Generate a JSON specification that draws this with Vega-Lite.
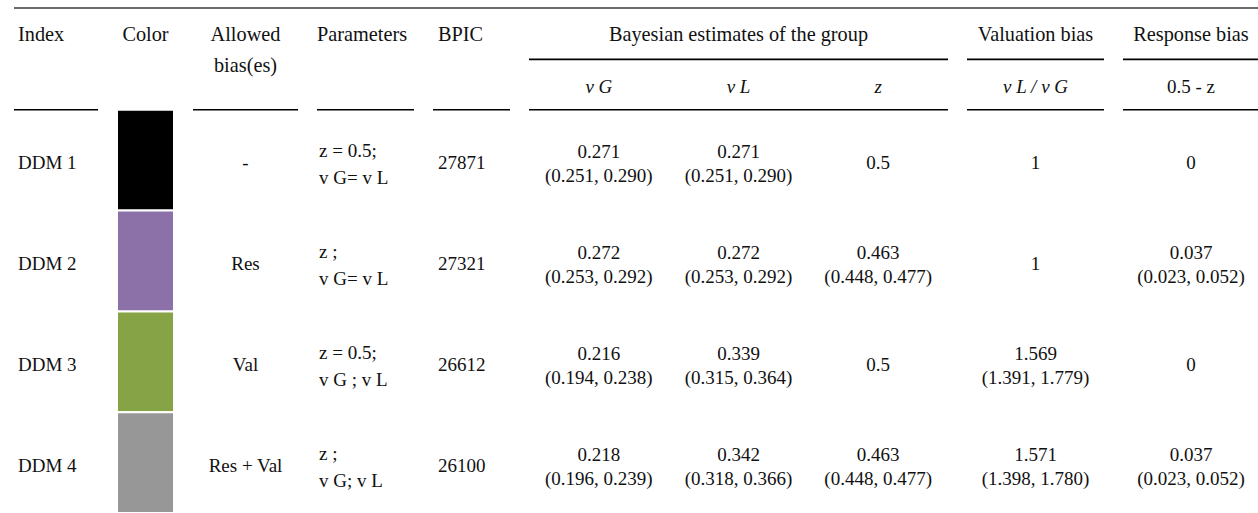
{
  "$schema": "https://vega.github.io/schema/vega-lite/v6.json",
  "padding": {"left": 13, "top": 7, "right": 0, "bottom": 0},
  "background": "white",
  "bounds": "flush",
  "spacing": 0,
  "config": {
    "view": {"stroke": null},
    "text": {"font": "Liberation Serif", "fontSize": 19, "color": "#111111"},
    "rule": {"color": "#000000", "strokeWidth": 1.6}
  },
  "datasets": {
    "header": [
      {"col": "Index", "text": "Index"},
      {"col": "Color", "text": "Color"},
      {"col": "Allowed", "text": "Allowed\nbias(es)"},
      {"col": "Parameters", "text": "Parameters"},
      {"col": "BPIC", "text": "BPIC"},
      {"col": "Bayes", "text": "Bayesian estimates of the group"},
      {"col": "Valuation", "text": "Valuation bias"},
      {"col": "Response", "text": "Response bias"}
    ],
    "subs": [
      {"col": "Bayes", "sub": "vG", "text": "v G"},
      {"col": "Bayes", "sub": "vL", "text": "v L"},
      {"col": "Bayes", "sub": "z", "text": "z"},
      {"col": "Valuation", "sub": "ratio", "text": "v L / v G"},
      {"col": "Response", "sub": "resp", "text": "0.5 - z"}
    ],
    "cells": [
      {"model": "DDM 1", "col": "Index", "text": "DDM 1"},
      {"model": "DDM 2", "col": "Index", "text": "DDM 2"},
      {"model": "DDM 3", "col": "Index", "text": "DDM 3"},
      {"model": "DDM 4", "col": "Index", "text": "DDM 4"},
      {"model": "DDM 1", "col": "Color", "text": ""},
      {"model": "DDM 2", "col": "Color", "text": ""},
      {"model": "DDM 3", "col": "Color", "text": ""},
      {"model": "DDM 4", "col": "Color", "text": ""},
      {"model": "DDM 1", "col": "Allowed", "text": "-"},
      {"model": "DDM 2", "col": "Allowed", "text": "Res"},
      {"model": "DDM 3", "col": "Allowed", "text": "Val"},
      {"model": "DDM 4", "col": "Allowed", "text": "Res + Val"},
      {"model": "DDM 1", "col": "Parameters", "text": "z  = 0.5;\nv G= v L"},
      {"model": "DDM 2", "col": "Parameters", "text": "z ;\nv G= v L"},
      {"model": "DDM 3", "col": "Parameters", "text": "z  = 0.5;\nv G ; v L"},
      {"model": "DDM 4", "col": "Parameters", "text": "z ;\nv G; v L"},
      {"model": "DDM 1", "col": "BPIC", "text": "27871"},
      {"model": "DDM 2", "col": "BPIC", "text": "27321"},
      {"model": "DDM 3", "col": "BPIC", "text": "26612"},
      {"model": "DDM 4", "col": "BPIC", "text": "26100"},
      {"model": "DDM 1", "col": "Bayes", "sub": "vG", "text": "0.271\n(0.251, 0.290)"},
      {"model": "DDM 1", "col": "Bayes", "sub": "vL", "text": "0.271\n(0.251, 0.290)"},
      {"model": "DDM 1", "col": "Bayes", "sub": "z", "text": "0.5"},
      {"model": "DDM 2", "col": "Bayes", "sub": "vG", "text": "0.272\n(0.253, 0.292)"},
      {"model": "DDM 2", "col": "Bayes", "sub": "vL", "text": "0.272\n(0.253, 0.292)"},
      {"model": "DDM 2", "col": "Bayes", "sub": "z", "text": "0.463\n(0.448, 0.477)"},
      {"model": "DDM 3", "col": "Bayes", "sub": "vG", "text": "0.216\n(0.194, 0.238)"},
      {"model": "DDM 3", "col": "Bayes", "sub": "vL", "text": "0.339\n(0.315, 0.364)"},
      {"model": "DDM 3", "col": "Bayes", "sub": "z", "text": "0.5"},
      {"model": "DDM 4", "col": "Bayes", "sub": "vG", "text": "0.218\n(0.196, 0.239)"},
      {"model": "DDM 4", "col": "Bayes", "sub": "vL", "text": "0.342\n(0.318, 0.366)"},
      {"model": "DDM 4", "col": "Bayes", "sub": "z", "text": "0.463\n(0.448, 0.477)"},
      {"model": "DDM 1", "col": "Valuation", "text": "1"},
      {"model": "DDM 2", "col": "Valuation", "text": "1"},
      {"model": "DDM 3", "col": "Valuation", "text": "1.569\n(1.391, 1.779)"},
      {"model": "DDM 4", "col": "Valuation", "text": "1.571\n(1.398, 1.780)"},
      {"model": "DDM 1", "col": "Response", "text": "0"},
      {"model": "DDM 2", "col": "Response", "text": "0.037\n(0.023, 0.052)"},
      {"model": "DDM 3", "col": "Response", "text": "0"},
      {"model": "DDM 4", "col": "Response", "text": "0.037\n(0.023, 0.052)"}
    ]
  },
  "vconcat": [
    {
      "width": 1245,
      "height": 2,
      "data": {"values": [{"line": "top"}]},
      "mark": {"type": "rule", "color": "#3a3a3a", "strokeWidth": 1.6},
      "encoding": {"y": {"field": "line", "type": "nominal", "axis": null}}
    },
    {
      "spacing": 19,
      "bounds": "flush",
      "hconcat": [
        {
          "width": 84, "height": 504,
          "layer": [
            {"data": {"name": "header"}, "transform": [{"filter": "datum.col === 'Index'"}],
             "mark": {"type": "text", "align": "left", "baseline": "alphabetic", "fontSize": 20.3, "dx": 4, "dy": -18, "lineBreak": "\n", "lineHeight": 31},
             "encoding": {
               "x": {"field": "col", "type": "nominal", "axis": null, "scale": {"type": "point", "padding": 0, "align": 0}},
               "y": {"datum": "H", "type": "nominal", "axis": null, "scale": {"type": "band", "domain": ["H", "DDM 1", "DDM 2", "DDM 3", "DDM 4"], "paddingInner": 0, "paddingOuter": 0}},
               "text": {"field": "text", "type": "nominal"}}},
            {"data": {"name": "header"}, "transform": [{"filter": "datum.col === 'Index'"}],
             "mark": "rule",
             "encoding": {"y": {"datum": "H", "type": "nominal", "axis": null, "bandPosition": 1, "scale": {"type": "band", "domain": ["H", "DDM 1", "DDM 2", "DDM 3", "DDM 4"], "paddingInner": 0, "paddingOuter": 0}}}},
            {"data": {"name": "cells"}, "transform": [{"filter": "datum.col === 'Index'"}],
             "mark": {"type": "text", "align": "left", "baseline": "middle", "dx": 4, "dy": 3},
             "encoding": {
               "x": {"field": "col", "type": "nominal", "axis": null, "scale": {"type": "point", "padding": 0, "align": 0}},
               "y": {"field": "model", "type": "nominal", "axis": null, "scale": {"type": "band", "domain": ["H", "DDM 1", "DDM 2", "DDM 3", "DDM 4"], "paddingInner": 0, "paddingOuter": 0}},
               "text": {"field": "text", "type": "nominal"}}}
          ]
        },
        {
          "width": 57, "height": 504,
          "layer": [
            {"data": {"name": "header"}, "transform": [{"filter": "datum.col === 'Color'"}],
             "mark": {"type": "text", "align": "center", "baseline": "alphabetic", "fontSize": 20.3, "dy": -18, "lineBreak": "\n", "lineHeight": 31},
             "encoding": {
               "y": {"datum": "H", "type": "nominal", "axis": null, "scale": {"type": "band", "domain": ["H", "DDM 1", "DDM 2", "DDM 3", "DDM 4"], "paddingInner": 0, "paddingOuter": 0}},
               "text": {"field": "text", "type": "nominal"}}},
            {"data": {"name": "cells"}, "transform": [{"filter": "datum.col === 'Color'"}],
             "mark": {"type": "rect", "stroke": "white", "strokeWidth": 2},
             "encoding": {
               "y": {"field": "model", "type": "nominal", "axis": null, "scale": {"type": "band", "domain": ["H", "DDM 1", "DDM 2", "DDM 3", "DDM 4"], "paddingInner": 0, "paddingOuter": 0}},
               "color": {"field": "model", "type": "nominal", "legend": null, "scale": {"domain": ["DDM 1", "DDM 2", "DDM 3", "DDM 4"], "range": ["#000000", "#8B71A8", "#86A346", "#979797"]}}}}
          ]
        },
        {
          "width": 105, "height": 504,
          "layer": [
            {"data": {"name": "header"}, "transform": [{"filter": "datum.col === 'Allowed'"}],
             "mark": {"type": "text", "align": "center", "baseline": "alphabetic", "fontSize": 20.3, "dy": -18, "lineBreak": "\n", "lineHeight": 31},
             "encoding": {
               "y": {"datum": "H", "type": "nominal", "axis": null, "scale": {"type": "band", "domain": ["H", "DDM 1", "DDM 2", "DDM 3", "DDM 4"], "paddingInner": 0, "paddingOuter": 0}},
               "text": {"field": "text", "type": "nominal"}}},
            {"data": {"name": "header"}, "transform": [{"filter": "datum.col === 'Allowed'"}],
             "mark": "rule",
             "encoding": {"y": {"datum": "H", "type": "nominal", "axis": null, "bandPosition": 1, "scale": {"type": "band", "domain": ["H", "DDM 1", "DDM 2", "DDM 3", "DDM 4"], "paddingInner": 0, "paddingOuter": 0}}}},
            {"data": {"name": "cells"}, "transform": [{"filter": "datum.col === 'Allowed'"}],
             "mark": {"type": "text", "align": "center", "baseline": "middle", "dy": 3},
             "encoding": {
               "y": {"field": "model", "type": "nominal", "axis": null, "scale": {"type": "band", "domain": ["H", "DDM 1", "DDM 2", "DDM 3", "DDM 4"], "paddingInner": 0, "paddingOuter": 0}},
               "text": {"field": "text", "type": "nominal"}}}
          ]
        },
        {
          "width": 97, "height": 504,
          "layer": [
            {"data": {"name": "header"}, "transform": [{"filter": "datum.col === 'Parameters'"}],
             "mark": {"type": "text", "align": "left", "baseline": "alphabetic", "fontSize": 20.3, "dx": 0, "dy": -18, "lineBreak": "\n", "lineHeight": 31},
             "encoding": {
               "x": {"field": "col", "type": "nominal", "axis": null, "scale": {"type": "point", "padding": 0, "align": 0}},
               "y": {"datum": "H", "type": "nominal", "axis": null, "scale": {"type": "band", "domain": ["H", "DDM 1", "DDM 2", "DDM 3", "DDM 4"], "paddingInner": 0, "paddingOuter": 0}},
               "text": {"field": "text", "type": "nominal"}}},
            {"data": {"name": "header"}, "transform": [{"filter": "datum.col === 'Parameters'"}],
             "mark": "rule",
             "encoding": {"y": {"datum": "H", "type": "nominal", "axis": null, "bandPosition": 1, "scale": {"type": "band", "domain": ["H", "DDM 1", "DDM 2", "DDM 3", "DDM 4"], "paddingInner": 0, "paddingOuter": 0}}}},
            {"data": {"name": "cells"}, "transform": [{"filter": "datum.col === 'Parameters'"}],
             "mark": {"type": "text", "align": "left", "baseline": "middle", "dx": 2, "dy": -9, "lineBreak": "\n", "lineHeight": 27},
             "encoding": {
               "x": {"field": "col", "type": "nominal", "axis": null, "scale": {"type": "point", "padding": 0, "align": 0}},
               "y": {"field": "model", "type": "nominal", "axis": null, "scale": {"type": "band", "domain": ["H", "DDM 1", "DDM 2", "DDM 3", "DDM 4"], "paddingInner": 0, "paddingOuter": 0}},
               "text": {"field": "text", "type": "nominal"}}}
          ]
        },
        {
          "width": 77, "height": 504,
          "layer": [
            {"data": {"name": "header"}, "transform": [{"filter": "datum.col === 'BPIC'"}],
             "mark": {"type": "text", "align": "left", "baseline": "alphabetic", "fontSize": 20.3, "dx": 5, "dy": -18, "lineBreak": "\n", "lineHeight": 31},
             "encoding": {
               "x": {"field": "col", "type": "nominal", "axis": null, "scale": {"type": "point", "padding": 0, "align": 0}},
               "y": {"datum": "H", "type": "nominal", "axis": null, "scale": {"type": "band", "domain": ["H", "DDM 1", "DDM 2", "DDM 3", "DDM 4"], "paddingInner": 0, "paddingOuter": 0}},
               "text": {"field": "text", "type": "nominal"}}},
            {"data": {"name": "header"}, "transform": [{"filter": "datum.col === 'BPIC'"}],
             "mark": "rule",
             "encoding": {"y": {"datum": "H", "type": "nominal", "axis": null, "bandPosition": 1, "scale": {"type": "band", "domain": ["H", "DDM 1", "DDM 2", "DDM 3", "DDM 4"], "paddingInner": 0, "paddingOuter": 0}}}},
            {"data": {"name": "cells"}, "transform": [{"filter": "datum.col === 'BPIC'"}],
             "mark": {"type": "text", "align": "left", "baseline": "middle", "dx": 5, "dy": 3},
             "encoding": {
               "x": {"field": "col", "type": "nominal", "axis": null, "scale": {"type": "point", "padding": 0, "align": 0}},
               "y": {"field": "model", "type": "nominal", "axis": null, "scale": {"type": "band", "domain": ["H", "DDM 1", "DDM 2", "DDM 3", "DDM 4"], "paddingInner": 0, "paddingOuter": 0}},
               "text": {"field": "text", "type": "nominal"}}}
          ]
        },
        {
          "width": 419, "height": 504,
          "layer": [
            {"data": {"name": "header"}, "transform": [{"filter": "datum.col === 'Bayes'"}],
             "mark": {"type": "text", "align": "center", "baseline": "alphabetic", "fontSize": 20.3, "dy": -18, "lineBreak": "\n", "lineHeight": 31},
             "encoding": {
               "y": {"datum": "H", "type": "nominal", "axis": null, "scale": {"type": "band", "domain": ["H", "DDM 1", "DDM 2", "DDM 3", "DDM 4"], "paddingInner": 0, "paddingOuter": 0}},
               "text": {"field": "text", "type": "nominal"}}},
            {"data": {"name": "header"}, "transform": [{"filter": "datum.col === 'Bayes'"}],
             "mark": "rule",
             "encoding": {"y": {"datum": "H", "type": "nominal", "axis": null, "bandPosition": 0.5, "scale": {"type": "band", "domain": ["H", "DDM 1", "DDM 2", "DDM 3", "DDM 4"], "paddingInner": 0, "paddingOuter": 0}}}},
            {"data": {"name": "subs"}, "transform": [{"filter": "datum.col === 'Bayes'"}],
             "mark": {"type": "text", "align": "center", "baseline": "middle", "dy": 28, "fontStyle": "italic"},
             "encoding": {
               "x": {"field": "sub", "type": "nominal", "axis": null, "scale": {"type": "band", "domain": ["vG", "vL", "z"], "paddingInner": 0, "paddingOuter": 0}},
               "y": {"datum": "H", "type": "nominal", "axis": null, "scale": {"type": "band", "domain": ["H", "DDM 1", "DDM 2", "DDM 3", "DDM 4"], "paddingInner": 0, "paddingOuter": 0}},
               "text": {"field": "text", "type": "nominal"}}},
            {"data": {"name": "header"}, "transform": [{"filter": "datum.col === 'Bayes'"}],
             "mark": "rule",
             "encoding": {"y": {"datum": "H", "type": "nominal", "axis": null, "bandPosition": 1, "scale": {"type": "band", "domain": ["H", "DDM 1", "DDM 2", "DDM 3", "DDM 4"], "paddingInner": 0, "paddingOuter": 0}}}},
            {"data": {"name": "cells"}, "transform": [{"filter": "datum.col === 'Bayes' && length(datum.text) > 5"}],
             "mark": {"type": "text", "align": "center", "baseline": "middle", "dy": -8, "lineBreak": "\n", "lineHeight": 24},
             "encoding": {
               "x": {"field": "sub", "type": "nominal", "axis": null, "scale": {"type": "band", "domain": ["vG", "vL", "z"], "paddingInner": 0, "paddingOuter": 0}},
               "y": {"field": "model", "type": "nominal", "axis": null, "scale": {"type": "band", "domain": ["H", "DDM 1", "DDM 2", "DDM 3", "DDM 4"], "paddingInner": 0, "paddingOuter": 0}},
               "text": {"field": "text", "type": "nominal"}}},
            {"data": {"name": "cells"}, "transform": [{"filter": "datum.col === 'Bayes' && length(datum.text) <= 5"}],
             "mark": {"type": "text", "align": "center", "baseline": "middle", "dy": 3},
             "encoding": {
               "x": {"field": "sub", "type": "nominal", "axis": null, "scale": {"type": "band", "domain": ["vG", "vL", "z"], "paddingInner": 0, "paddingOuter": 0}},
               "y": {"field": "model", "type": "nominal", "axis": null, "scale": {"type": "band", "domain": ["H", "DDM 1", "DDM 2", "DDM 3", "DDM 4"], "paddingInner": 0, "paddingOuter": 0}},
               "text": {"field": "text", "type": "nominal"}}}
          ]
        },
        {
          "width": 137, "height": 504,
          "layer": [
            {"data": {"name": "header"}, "transform": [{"filter": "datum.col === 'Valuation'"}],
             "mark": {"type": "text", "align": "center", "baseline": "alphabetic", "fontSize": 20.3, "dy": -18, "lineBreak": "\n", "lineHeight": 31},
             "encoding": {
               "y": {"datum": "H", "type": "nominal", "axis": null, "scale": {"type": "band", "domain": ["H", "DDM 1", "DDM 2", "DDM 3", "DDM 4"], "paddingInner": 0, "paddingOuter": 0}},
               "text": {"field": "text", "type": "nominal"}}},
            {"data": {"name": "header"}, "transform": [{"filter": "datum.col === 'Valuation'"}],
             "mark": "rule",
             "encoding": {"y": {"datum": "H", "type": "nominal", "axis": null, "bandPosition": 0.5, "scale": {"type": "band", "domain": ["H", "DDM 1", "DDM 2", "DDM 3", "DDM 4"], "paddingInner": 0, "paddingOuter": 0}}}},
            {"data": {"name": "subs"}, "transform": [{"filter": "datum.col === 'Valuation'"}],
             "mark": {"type": "text", "align": "center", "baseline": "middle", "dy": 28, "fontStyle": "italic"},
             "encoding": {
               "y": {"datum": "H", "type": "nominal", "axis": null, "scale": {"type": "band", "domain": ["H", "DDM 1", "DDM 2", "DDM 3", "DDM 4"], "paddingInner": 0, "paddingOuter": 0}},
               "text": {"field": "text", "type": "nominal"}}},
            {"data": {"name": "header"}, "transform": [{"filter": "datum.col === 'Valuation'"}],
             "mark": "rule",
             "encoding": {"y": {"datum": "H", "type": "nominal", "axis": null, "bandPosition": 1, "scale": {"type": "band", "domain": ["H", "DDM 1", "DDM 2", "DDM 3", "DDM 4"], "paddingInner": 0, "paddingOuter": 0}}}},
            {"data": {"name": "cells"}, "transform": [{"filter": "datum.col === 'Valuation' && length(datum.text) > 5"}],
             "mark": {"type": "text", "align": "center", "baseline": "middle", "dy": -8, "lineBreak": "\n", "lineHeight": 24},
             "encoding": {
               "y": {"field": "model", "type": "nominal", "axis": null, "scale": {"type": "band", "domain": ["H", "DDM 1", "DDM 2", "DDM 3", "DDM 4"], "paddingInner": 0, "paddingOuter": 0}},
               "text": {"field": "text", "type": "nominal"}}},
            {"data": {"name": "cells"}, "transform": [{"filter": "datum.col === 'Valuation' && length(datum.text) <= 5"}],
             "mark": {"type": "text", "align": "center", "baseline": "middle", "dy": 3},
             "encoding": {
               "y": {"field": "model", "type": "nominal", "axis": null, "scale": {"type": "band", "domain": ["H", "DDM 1", "DDM 2", "DDM 3", "DDM 4"], "paddingInner": 0, "paddingOuter": 0}},
               "text": {"field": "text", "type": "nominal"}}}
          ]
        },
        {
          "width": 136, "height": 504,
          "layer": [
            {"data": {"name": "header"}, "transform": [{"filter": "datum.col === 'Response'"}],
             "mark": {"type": "text", "align": "center", "baseline": "alphabetic", "fontSize": 20.3, "dy": -18, "lineBreak": "\n", "lineHeight": 31},
             "encoding": {
               "y": {"datum": "H", "type": "nominal", "axis": null, "scale": {"type": "band", "domain": ["H", "DDM 1", "DDM 2", "DDM 3", "DDM 4"], "paddingInner": 0, "paddingOuter": 0}},
               "text": {"field": "text", "type": "nominal"}}},
            {"data": {"name": "header"}, "transform": [{"filter": "datum.col === 'Response'"}],
             "mark": "rule",
             "encoding": {"y": {"datum": "H", "type": "nominal", "axis": null, "bandPosition": 0.5, "scale": {"type": "band", "domain": ["H", "DDM 1", "DDM 2", "DDM 3", "DDM 4"], "paddingInner": 0, "paddingOuter": 0}}}},
            {"data": {"name": "subs"}, "transform": [{"filter": "datum.col === 'Response'"}],
             "mark": {"type": "text", "align": "center", "baseline": "middle", "dy": 28},
             "encoding": {
               "y": {"datum": "H", "type": "nominal", "axis": null, "scale": {"type": "band", "domain": ["H", "DDM 1", "DDM 2", "DDM 3", "DDM 4"], "paddingInner": 0, "paddingOuter": 0}},
               "text": {"field": "text", "type": "nominal"}}},
            {"data": {"name": "header"}, "transform": [{"filter": "datum.col === 'Response'"}],
             "mark": "rule",
             "encoding": {"y": {"datum": "H", "type": "nominal", "axis": null, "bandPosition": 1, "scale": {"type": "band", "domain": ["H", "DDM 1", "DDM 2", "DDM 3", "DDM 4"], "paddingInner": 0, "paddingOuter": 0}}}},
            {"data": {"name": "cells"}, "transform": [{"filter": "datum.col === 'Response' && length(datum.text) > 5"}],
             "mark": {"type": "text", "align": "center", "baseline": "middle", "dy": -8, "lineBreak": "\n", "lineHeight": 24},
             "encoding": {
               "y": {"field": "model", "type": "nominal", "axis": null, "scale": {"type": "band", "domain": ["H", "DDM 1", "DDM 2", "DDM 3", "DDM 4"], "paddingInner": 0, "paddingOuter": 0}},
               "text": {"field": "text", "type": "nominal"}}},
            {"data": {"name": "cells"}, "transform": [{"filter": "datum.col === 'Response' && length(datum.text) <= 5"}],
             "mark": {"type": "text", "align": "center", "baseline": "middle", "dy": 3},
             "encoding": {
               "y": {"field": "model", "type": "nominal", "axis": null, "scale": {"type": "band", "domain": ["H", "DDM 1", "DDM 2", "DDM 3", "DDM 4"], "paddingInner": 0, "paddingOuter": 0}},
               "text": {"field": "text", "type": "nominal"}}}
          ]
        }
      ]
    }
  ]
}
